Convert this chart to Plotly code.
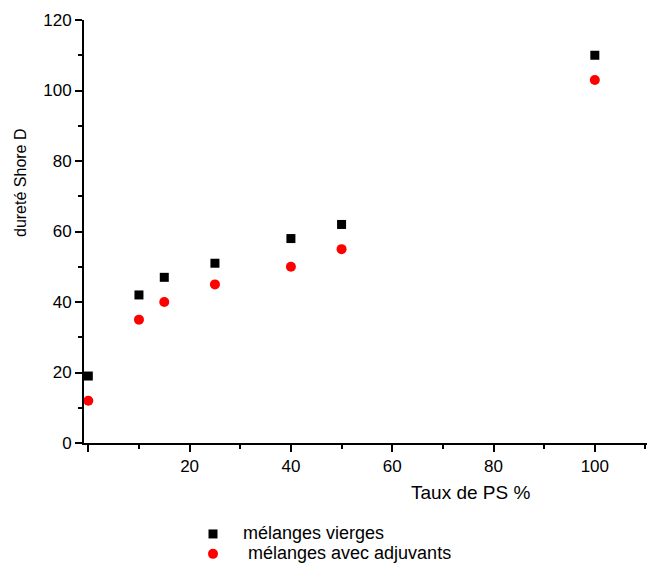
import plotly.graph_objects as go

taux_ps = [0, 10, 15, 25, 40, 50, 100]
vierges = [19, 42, 47, 51, 58, 62, 110]
adjuvants = [12, 35, 40, 45, 50, 55, 103]

x_tickvals = [0, 20, 40, 60, 80, 100]
x_ticktext = ["", "20", "40", "60", "80", "100"]
y_tickvals = [0, 20, 40, 60, 80, 100, 120]

FONT = "Arial, Liberation Sans, sans-serif"
W, H = 647, 569

def px_x(px):
    return px / W
def px_y(py):
    return 1 - py / H

def big(txt):
    return '<span style="font-size:18px">' + txt + '</span>'

fig = go.Figure()
fig.add_trace(go.Scatter(
    x=taux_ps, y=vierges, mode="markers",
    name=big("\u00a0\u00a0mélanges vierges"),
    marker=dict(symbol="square", size=9, color="black"),
))
fig.add_trace(go.Scatter(
    x=taux_ps, y=adjuvants, mode="markers",
    name=big("\u00a0\u00a0\u00a0mélanges avec adjuvants"),
    marker=dict(symbol="circle", size=10, color="red"),
))

axis_common = dict(
    showgrid=False, zeroline=False, showline=True, linecolor="black", linewidth=2,
    ticks="outside", ticklen=7, tickwidth=1.5, tickcolor="black", automargin=False,
    tickfont=dict(family=FONT, size=17, color="black"),
)
minor = dict(dtick=10, tick0=0, ticks="outside", ticklen=4, tickwidth=1.5, tickcolor="black")

fig.update_layout(
    width=W, height=H,
    plot_bgcolor="white", paper_bgcolor="white",
    margin=dict(l=0, r=0, t=0, b=0),
    xaxis=dict(range=[-0.85, 110.3], tickvals=x_tickvals, ticktext=x_ticktext,
               domain=[px_x(84), 1], minor=minor, **axis_common),
    yaxis=dict(range=[0, 120], tickvals=y_tickvals,
               domain=[px_y(443), px_y(20)], minor=minor, **axis_common),
    showlegend=True,
    legend=dict(x=px_x(193), y=0, xanchor="left", yanchor="bottom",
                font=dict(family=FONT, size=13, color="black"),
                bgcolor="rgba(0,0,0,0)", itemwidth=30, tracegroupgap=0),
    annotations=[
        dict(text="Taux de PS %", x=px_x(470), y=px_y(492), xref="paper", yref="paper",
             xanchor="center", yanchor="middle",
             showarrow=False, font=dict(family=FONT, size=19, color="black")),
        dict(text="dureté Shore D", x=px_x(20), y=px_y(183), xref="paper", yref="paper",
             xanchor="center", yanchor="middle",
             showarrow=False, textangle=-90, font=dict(family=FONT, size=16, color="black")),
    ],
)

fig.write_html("out.html", config={"displayModeBar": False},
               post_script="document.body.style.margin='0';document.body.style.overflow='hidden';")
